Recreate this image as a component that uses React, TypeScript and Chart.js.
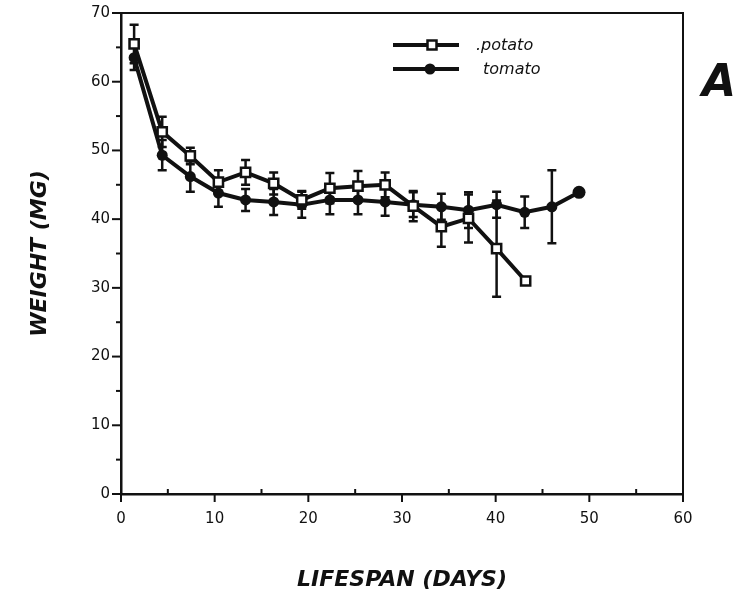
import React, { useEffect, useRef } from 'react';
import { Chart, registerables } from 'chart.js';

Chart.register(...registerables);

// ---- data ----
const potatoDays = [1.4, 4.4, 7.4, 10.4, 13.3, 16.3, 19.3, 22.3, 25.3, 28.2, 31.2, 34.2, 37.1, 40.1, 43.2];
const potatoWeight = [65.5, 52.7, 49.2, 45.4, 46.8, 45.2, 42.8, 44.5, 44.8, 45.0, 41.9, 38.9, 40.1, 35.7, 31.0];
const potatoErr = [2.8, 2.2, 1.2, 1.7, 1.8, 1.6, 1.3, 2.2, 2.2, 1.8, 2.2, 2.9, 3.5, 7.0, 0];

const tomatoDays = [1.4, 4.4, 7.4, 10.4, 13.3, 16.3, 19.3, 22.3, 25.3, 28.2, 31.2, 34.2, 37.1, 40.1, 43.1, 46.0, 48.9];
const tomatoWeight = [63.5, 49.3, 46.2, 43.8, 42.8, 42.5, 42.1, 42.8, 42.8, 42.5, 42.1, 41.8, 41.3, 42.1, 41.0, 41.8, 43.9];
const tomatoErr = [1.8, 2.2, 2.2, 2.0, 1.6, 1.9, 1.9, 2.1, 2.1, 2.0, 1.8, 1.9, 2.6, 1.9, 2.3, 5.3, 0];

const xTicks = [0, 10, 20, 30, 40, 50, 60];
const yTicks = [0, 10, 20, 30, 40, 50, 60, 70];
const seriesNames = ['.potato', 'tomato'];
const yTitle = 'WEIGHT (MG)';
const xTitle = 'LIFESPAN (DAYS)';
const panelLabel = 'A';

const INK = '#111111';

export default function App() {
  const ref = useRef<HTMLCanvasElement>(null);

  useEffect(() => {
    const canvas = ref.current;
    if (!canvas) return;

    const overlay = {
      id: 'overlay',
      beforeDatasetsDraw(chart: any) {
        const { ctx } = chart;
        const xs = chart.scales.x;
        const ys = chart.scales.y;
        ctx.save();
        ctx.strokeStyle = INK;
        ctx.lineWidth = 2.5;
        ctx.lineCap = 'butt';
        const drawSet = (days: number[], w: number[], e: number[]) => {
          for (let i = 0; i < days.length; i++) {
            if (!e[i]) continue;
            const x = xs.getPixelForValue(days[i]);
            const yt = ys.getPixelForValue(w[i] + e[i]);
            const yb = ys.getPixelForValue(w[i] - e[i]);
            ctx.beginPath();
            ctx.moveTo(x, yt);
            ctx.lineTo(x, yb);
            ctx.moveTo(x - 4.5, yt);
            ctx.lineTo(x + 4.5, yt);
            ctx.moveTo(x - 4.5, yb);
            ctx.lineTo(x + 4.5, yb);
            ctx.stroke();
          }
        };
        drawSet(tomatoDays, tomatoWeight, tomatoErr);
        drawSet(potatoDays, potatoWeight, potatoErr);
        ctx.restore();
      },
      afterDraw(chart: any) {
        const { ctx, chartArea } = chart;
        const xs = chart.scales.x;
        const ys = chart.scales.y;
        const { left, right, top, bottom } = chartArea;
        ctx.save();
        ctx.strokeStyle = INK;
        // top and right frame
        ctx.lineWidth = 2;
        ctx.beginPath();
        ctx.moveTo(left, top);
        ctx.lineTo(right, top);
        ctx.lineTo(right, bottom);
        ctx.stroke();
        // y ticks (major + minor, outward)
        ctx.lineWidth = 2;
        for (let v = 0; v <= 70; v += 5) {
          const y = ys.getPixelForValue(v);
          const len = v % 10 === 0 ? 9 : 5;
          ctx.beginPath();
          ctx.moveTo(left - len, y);
          ctx.lineTo(left, y);
          ctx.stroke();
        }
        // x ticks (major outward, minor inward)
        for (let v = 0; v <= 60; v += 5) {
          const x = xs.getPixelForValue(v);
          ctx.beginPath();
          if (v % 10 === 0) {
            ctx.moveTo(x, bottom);
            ctx.lineTo(x, bottom + 8);
          } else {
            ctx.moveTo(x, bottom - 5);
            ctx.lineTo(x, bottom);
          }
          ctx.stroke();
        }
        // legend
        const legendItems = [
          { y: 45, style: 'rect' },
          { y: 69, style: 'circle' },
        ];
        legendItems.forEach((it, i) => {
          ctx.lineWidth = 4;
          ctx.strokeStyle = INK;
          ctx.beginPath();
          ctx.moveTo(393, it.y);
          ctx.lineTo(459, it.y);
          ctx.stroke();
          if (it.style === 'rect') {
            ctx.fillStyle = '#ffffff';
            ctx.lineWidth = 2.5;
            ctx.fillRect(427.5, it.y - 4.5, 9, 9);
            ctx.strokeRect(427.5, it.y - 4.5, 9, 9);
          } else {
            ctx.fillStyle = INK;
            ctx.beginPath();
            ctx.arc(430, it.y, 5.5, 0, Math.PI * 2);
            ctx.fill();
          }
          ctx.fillStyle = INK;
          ctx.font = 'italic 16px "DejaVu Sans"';
          ctx.textBaseline = 'middle';
          ctx.textAlign = 'left';
          ctx.fillText(seriesNames[i], i === 0 ? 476 : 483, it.y + 1);
        });
        // panel letter
        ctx.fillStyle = INK;
        ctx.font = 'italic bold 44px "DejaVu Sans"';
        ctx.textAlign = 'center';
        ctx.textBaseline = 'middle';
        ctx.fillText(panelLabel, 719, 85);
        ctx.restore();
      },
    };

    const chart = new Chart(canvas, {
      type: 'line',
      data: {
        datasets: [
          {
            label: seriesNames[0],
            data: potatoDays.map((d, i) => ({ x: d, y: potatoWeight[i] })),
            borderColor: INK,
            borderWidth: 4,
            pointStyle: 'rect',
            pointRadius: 6.5,
            pointBorderWidth: 2.5,
            pointBackgroundColor: '#ffffff',
            pointBorderColor: INK,
            tension: 0,
          },
          {
            label: seriesNames[1],
            data: tomatoDays.map((d, i) => ({ x: d, y: tomatoWeight[i] })),
            borderColor: INK,
            borderWidth: 4,
            pointStyle: 'circle',
            pointRadius: (c: any) => (c.dataIndex === tomatoDays.length - 1 ? 6.5 : 5.5),
            pointBorderWidth: 0,
            pointBackgroundColor: INK,
            pointBorderColor: INK,
            tension: 0,
          },
        ],
      },
      options: {
        responsive: false,
        animation: false,
        devicePixelRatio: 1,
        clip: false as any,
        layout: { padding: { left: 0, right: 64, top: 13, bottom: 0 } },
        plugins: {
          legend: { display: false },
          tooltip: { enabled: false },
        },
        scales: {
          x: {
            type: 'linear',
            min: 0,
            max: 60,
            afterFit: (s: any) => {
              s.height = 104;
              s.paddingLeft = 0;
              s.paddingRight = 0;
            },
            afterBuildTicks: (s: any) => {
              s.ticks = xTicks.map((v) => ({ value: v }));
            },
            ticks: {
              color: INK,
              padding: 16,
              font: { family: 'DejaVu Sans', size: 15 },
              maxRotation: 0,
            },
            grid: { display: true, drawOnChartArea: false, drawTicks: false },
            border: { display: true, color: INK, width: 2.5 },
            title: {
              display: true,
              text: xTitle,
              color: INK,
              font: { family: 'DejaVu Sans', size: 22, weight: 'bold', style: 'italic' },
              padding: { top: 0, bottom: 5 },
            },
          },
          y: {
            type: 'linear',
            min: 0,
            max: 70,
            afterFit: (s: any) => {
              s.width = 121;
              s.paddingTop = 0;
              s.paddingBottom = 0;
            },
            afterBuildTicks: (s: any) => {
              s.ticks = yTicks.map((v) => ({ value: v }));
            },
            ticks: {
              color: INK,
              padding: 11,
              font: { family: 'DejaVu Sans', size: 15 },
            },
            grid: { display: true, drawOnChartArea: false, drawTicks: false },
            border: { display: true, color: INK, width: 2.5 },
            title: {
              display: true,
              text: yTitle,
              color: INK,
              font: { family: 'DejaVu Sans', size: 22, weight: 'bold', style: 'italic' },
              padding: { top: 27, bottom: 0 },
            },
          },
        },
      },
      plugins: [overlay],
    } as any);

    return () => chart.destroy();
  }, []);

  return (
    <div style={{ position: 'absolute', left: 0, top: 0, width: 747, height: 598, background: '#ffffff' }}>
      <canvas ref={ref} width={747} height={598} style={{ display: 'block', width: 747, height: 598 }} />
    </div>
  );
}
